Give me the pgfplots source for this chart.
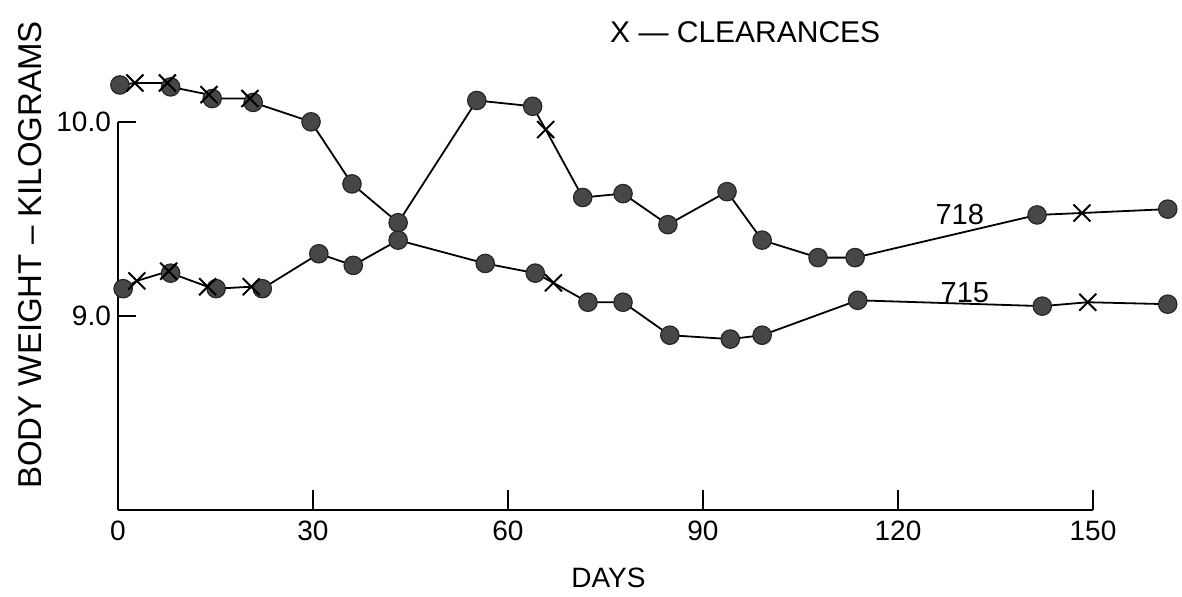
\documentclass[border=0pt]{standalone}
\usepackage{fontspec}
\setmainfont{Liberation Sans}
\usepackage{pgfplots}
\pgfplotsset{compat=1.18}
\definecolor{dotfill}{HTML}{474747}
\begin{document}
\begin{tikzpicture}
\begin{axis}[
  scale only axis, width=487.5pt, height=194pt,
  xmin=0, xmax=150, ymin=8, ymax=10,
  axis x line=bottom, axis y line=left,
  axis line style={-, line width=1.3pt},
  hide obscured x ticks=false,
  clip=false,
  xtick={0,30,60,90,120,150},
  ytick={9,10},
  yticklabels={9.0,10.0},
  tick align=inside,
  major tick length=9pt,
  tick style={line width=1.2pt, black},
  x tick style={/pgfplots/major tick length=10pt},
  /pgf/number format/assume math mode=true,
  ticklabel style={font=\fontsize{14}{16}\selectfont},
  xticklabel style={yshift=-2pt},
  xlabel={DAYS},
  xlabel style={at={(rel axis cs:0.503,0)}, anchor=center, yshift=-34pt, font=\fontsize{14}{16}\selectfont},
  ylabel={BODY WEIGHT -- KILOGRAMS},
  ylabel style={at={(rel axis cs:-0.0903,0.657)}, anchor=center, font=\fontsize{16.5}{18}\selectfont},
]
% 718 line
\addplot[black, line width=0.9pt] coordinates {
(0.3,10.19)(2.6,10.20)(7.6,10.20)(8.1,10.18)(14.0,10.14)(14.5,10.12)(20.3,10.12)(20.8,10.10)
(29.7,10.00)(36.0,9.68)(43.1,9.48)(55.2,10.11)(63.8,10.08)(65.8,9.96)(71.5,9.61)(77.7,9.63)
(84.6,9.47)(93.7,9.64)(99.1,9.39)(107.7,9.30)(113.4,9.30)(141.4,9.52)(148.3,9.53)(161.5,9.55)};
% 715 line
\addplot[black, line width=0.9pt] coordinates {
(0.8,9.14)(2.9,9.18)(7.8,9.23)(8.1,9.22)(13.8,9.15)(15.1,9.14)(20.5,9.15)(22.2,9.14)
(30.9,9.32)(36.2,9.26)(43.1,9.39)(56.5,9.27)(64.2,9.22)(67.0,9.17)(72.3,9.07)(77.7,9.07)
(84.9,8.90)(94.2,8.88)(99.1,8.90)(113.8,9.08)(142.2,9.05)(149.2,9.07)(161.5,9.06)};
% 718 circles
\addplot[only marks, mark=*, mark size=4.6pt, mark options={fill=dotfill, draw=black!85, line width=0.6pt}] coordinates {
(0.3,10.19)(8.1,10.18)(14.5,10.12)(20.8,10.10)(29.7,10.00)(36.0,9.68)(43.1,9.48)(55.2,10.11)
(63.8,10.08)(71.5,9.61)(77.7,9.63)(84.6,9.47)(93.7,9.64)(99.1,9.39)(107.7,9.30)(113.4,9.30)
(141.4,9.52)(161.5,9.55)};
% 715 circles
\addplot[only marks, mark=*, mark size=4.6pt, mark options={fill=dotfill, draw=black!85, line width=0.6pt}] coordinates {
(0.8,9.14)(8.1,9.22)(15.1,9.14)(22.2,9.14)(30.9,9.32)(36.2,9.26)(43.1,9.39)(56.5,9.27)
(64.2,9.22)(72.3,9.07)(77.7,9.07)(84.9,8.90)(94.2,8.88)(99.1,8.90)(113.8,9.08)(142.2,9.05)
(161.5,9.06)};
% clearances
\addplot[only marks, mark=x, mark size=6pt, mark options={black, line width=1pt}] coordinates {
(2.6,10.20)(7.6,10.20)(14.0,10.14)(20.3,10.12)(65.8,9.96)(148.3,9.53)
(2.9,9.18)(7.8,9.23)(13.8,9.15)(20.5,9.15)(67.0,9.17)(149.2,9.07)};
\node[font=\fontsize{14.5}{16}\selectfont] at (axis cs:129.5,9.52) {718};
\node[font=\fontsize{14.5}{16}\selectfont] at (axis cs:130.3,9.12) {715};
\node[font=\fontsize{15}{17}\selectfont] at (axis cs:96.5,10.46) {X --- CLEARANCES};
\coordinate (bl) at (rel axis cs:-0.121,-0.224);
\coordinate (tr) at (rel axis cs:1.0913,1.314);
\end{axis}
\path (bl) rectangle (tr);
\end{tikzpicture}
\end{document}
